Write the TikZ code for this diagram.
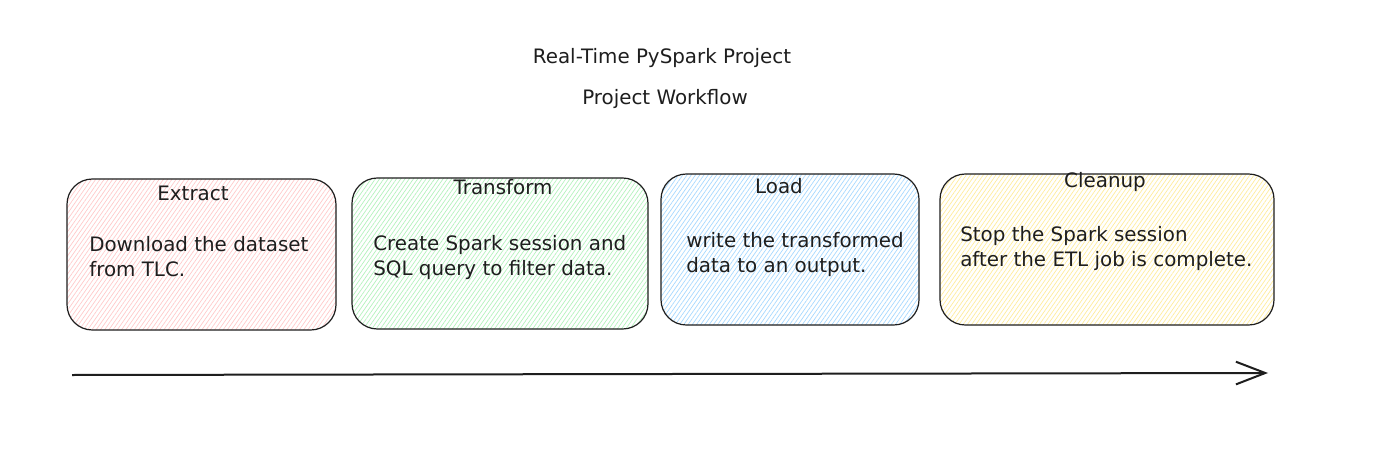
\documentclass[tikz,border=0pt]{standalone}
\usepackage{fontspec}
\setmainfont{DejaVu Sans}
\usetikzlibrary{arrows.meta,patterns.meta}

\definecolor{inkc}{HTML}{1E1E1E}
\definecolor{pinkc}{HTML}{FFC9C9}
\definecolor{greenc}{HTML}{B2F2BB}
\definecolor{bluec}{HTML}{A5D8FF}
\definecolor{yellowc}{HTML}{FFEC99}

\tikzset{
  stagebox/.style={draw=inkc, line width=0.9pt, rounded corners=19pt, minimum height=113.25pt, inner sep=0pt,
    pattern={Lines[angle=55,distance=2.6pt,line width=0.5pt]}},
  stagetitle/.style={font=\fontsize{14.9pt}{18.75pt}\selectfont, text=inkc, inner sep=0pt, anchor=base},
  stagetext/.style={font=\fontsize{14.9pt}{18.75pt}\selectfont, text=inkc, align=left, anchor=base west, inner sep=0pt},
}

\begin{document}
\begin{tikzpicture}[x=0.75pt,y=-0.75pt,>=Straight Barb]

\useasboundingbox[fill=white] (0,0) rectangle (1383,449);

% titles
\node[stagetitle] (maintitle) at (662,64) {Real-Time PySpark Project};
\node[stagetitle] (subtitle) at (665,105) {Project Workflow};

% stages
\node[stagebox, pattern color=pinkc, minimum width=201.75pt] (extract) at (201.5,254.5) {};
\node[stagebox, pattern color=greenc, minimum width=222pt] (transform) at (500,253.5) {};
\node[stagebox, pattern color=bluec, minimum width=193.5pt] (load) at (790,249.5) {};
\node[stagebox, pattern color=yellowc, minimum width=250.5pt] (cleanup) at (1107,249.5) {};

% stage titles
\node[stagetitle] (extracttitle) at (193,200) {Extract};
\node[stagetitle] (transformtitle) at (503,194) {Transform};
\node[stagetitle] (loadtitle) at (779,193) {Load};
\node[stagetitle] (cleanuptitle) at (1105,187) {Cleanup};

% stage texts (base = last line)
\node[stagetext] (extracttext) at (89,276) {Download the dataset\\from TLC.};
\node[stagetext] (transformtext) at (373,275) {Create Spark session and\\SQL query to filter data.};
\node[stagetext] (loadtext) at (686,272) {write the transformed\\data to an output.};
\node[stagetext] (cleanuptext) at (960,266) {Stop the Spark session\\after the ETL job is complete.};

% timeline
\coordinate (tstart) at (72,375);
\coordinate (tend) at (1268,373);
\draw[inkc, line width=1.5pt, -{Straight Barb[length=22pt,width=17pt,line width=1.5pt]}] (tstart) -- (tend);

\end{tikzpicture}
\end{document}
